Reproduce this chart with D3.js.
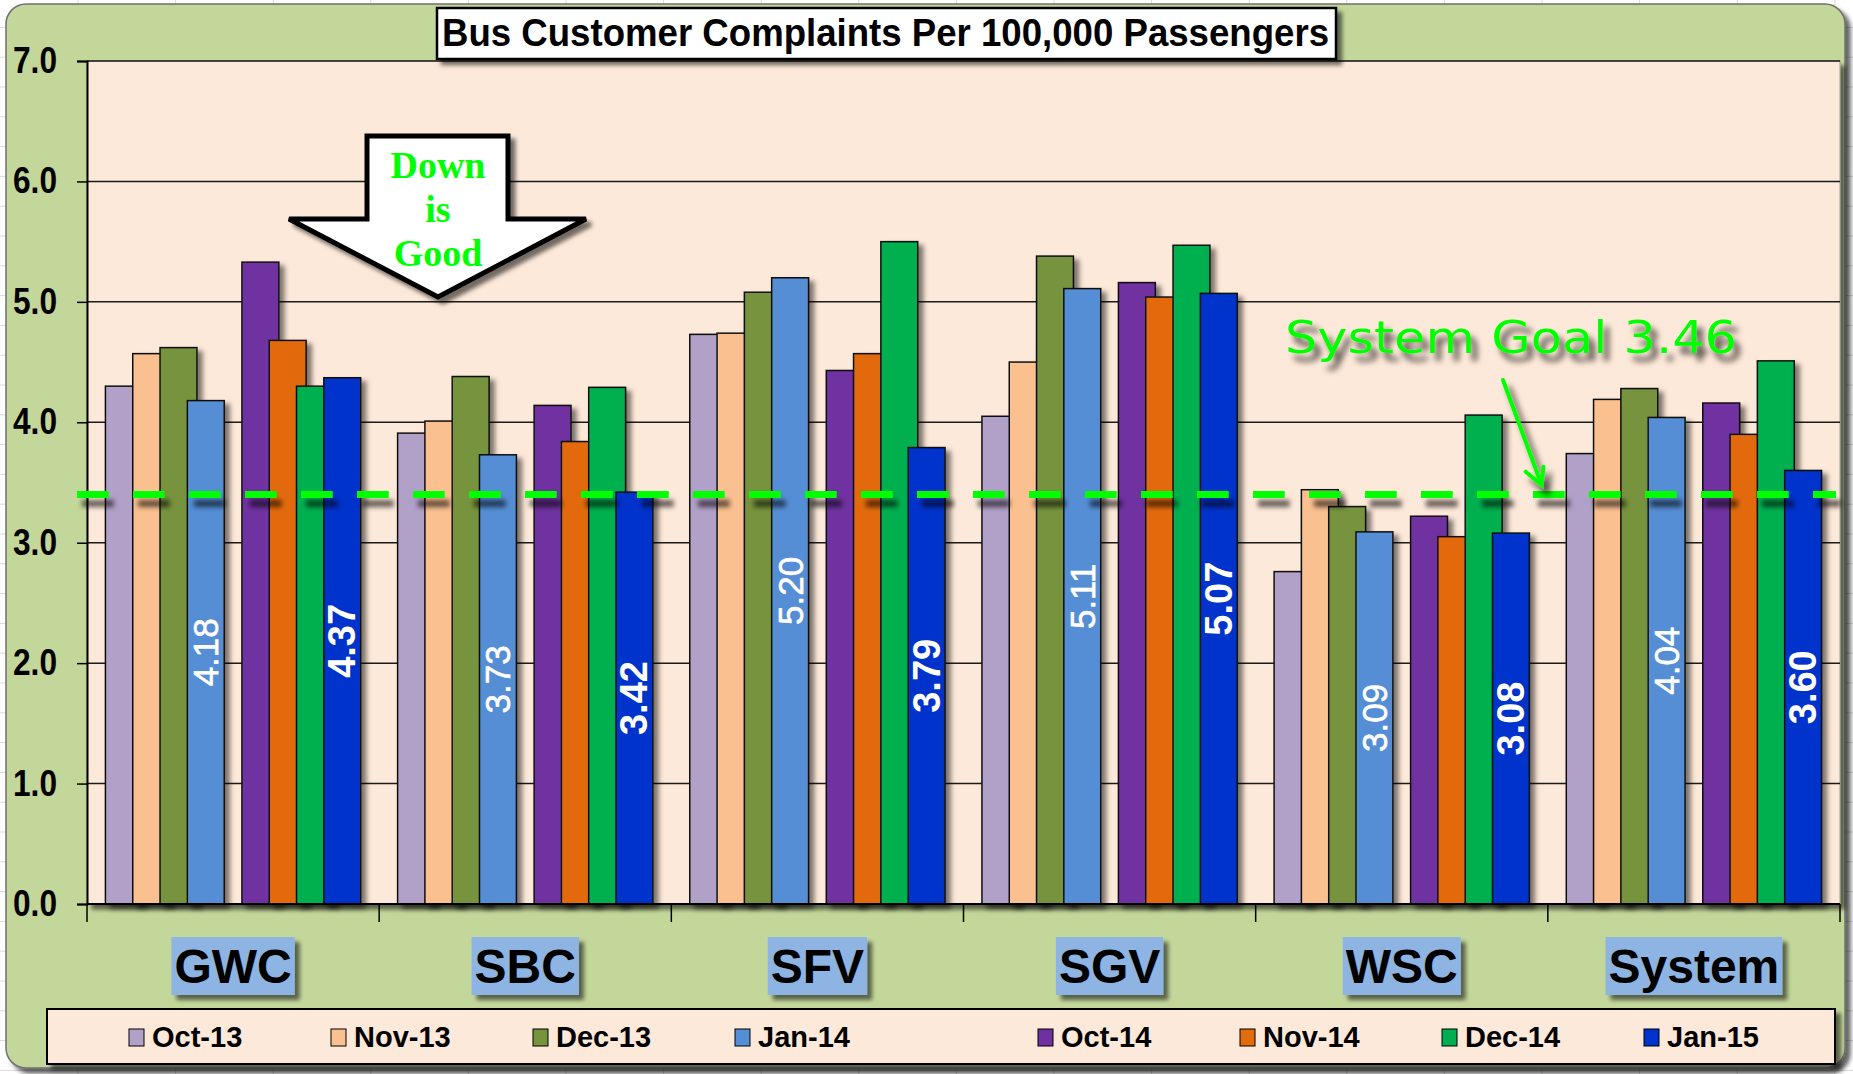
<!DOCTYPE html>
<html>
<head>
<meta charset="utf-8">
<title>Bus Customer Complaints Per 100,000 Passengers</title>
<script src="https://cdn.jsdelivr.net/npm/d3@7"></script>
<style>
	body { margin: 0; background: #fff; }
	svg { display: block; }
</style>
</head>
<body>
<div id="chart-area"></div>
<script>
// data
const groups = ['GWC', 'SBC', 'SFV', 'SGV', 'WSC', 'System']
const months = ['Oct-13', 'Nov-13', 'Dec-13', 'Jan-14', 'Oct-14', 'Nov-14', 'Dec-14', 'Jan-15']

const oct13 = [4.30, 3.91, 4.73, 4.05, 2.76, 3.74]
const nov13 = [4.57, 4.01, 4.74, 4.50, 3.44, 4.19]
const dec13 = [4.62, 4.38, 5.08, 5.38, 3.30, 4.28]
const jan14 = [4.18, 3.73, 5.20, 5.11, 3.09, 4.04]
const oct14 = [5.33, 4.14, 4.43, 5.16, 3.22, 4.16]
const nov14 = [4.68, 3.84, 4.57, 5.04, 3.05, 3.90]
const dec14 = [4.30, 4.29, 5.50, 5.47, 4.06, 4.51]
const jan15 = [4.37, 3.42, 3.79, 5.07, 3.08, 3.60]

const yTicks = [0, 1, 2, 3, 4, 5, 6, 7]
const goalLabel = 'System Goal 3.46'
const goalLevel = 3.40   // where the dashed line sits on the chart
const labelledMonths = ['Jan-14', 'Jan-15']

const monthColors = ['#b1a0c7', '#fac090', '#77933c', '#558ed5', '#7030a0', '#e26b0a', '#00b050', '#0033cc']

const seriesValues = [oct13, nov13, dec13, jan14, oct14, nov14, dec14, jan15]

const WIDTH = 1853
const HEIGHT = 1074
const PLOT = { LEFT: 87, RIGHT: 1840, TOP: 61, BOTTOM: 904 }

const svg = d3.select('#chart-area')
	.append('svg')
	.attr('width', WIDTH)
	.attr('height', HEIGHT)

// filters for the excel style shadows
const defs = svg.append('defs')
function shadow(id, dx, dy, sd, op, userSpace) {
	const f = defs.append('filter')
		.attr('id', id)
	if (userSpace) {
		f.attr('filterUnits', 'userSpaceOnUse')
			.attr('x', 0).attr('y', 0)
			.attr('width', WIDTH).attr('height', HEIGHT)
	} else {
		f.attr('x', '-20%').attr('y', '-20%')
			.attr('width', '150%').attr('height', '150%')
	}
	f.append('feDropShadow')
		.attr('dx', dx).attr('dy', dy)
		.attr('stdDeviation', sd)
		.attr('flood-color', '#000')
		.attr('flood-opacity', op)
}
shadow('barShadow', 5, 4, 2.5, 0.5)
shadow('boxShadow', 5, 5, 2, 0.55)
shadow('dashShadow', 5, 9, 2.5, 0.6, true)
shadow('textShadow', 6, 8, 3, 0.7, true)
shadow('outerShadow', 5, 5, 2, 0.6)

// sheet gridlines behind the chart object
const sheet = svg.append('g')
sheet.selectAll('.vcell')
	.data(d3.range(0, 20))
	.enter().append('line')
	.attr('x1', d => 78 + d * 97.6).attr('x2', d => 78 + d * 97.6)
	.attr('y1', 0).attr('y2', HEIGHT)
	.attr('stroke', '#d9d9d9')
sheet.selectAll('.hcell')
	.data(d3.range(0, 37))
	.enter().append('line')
	.attr('x1', 0).attr('x2', WIDTH)
	.attr('y1', d => 27.4 + d * 29.8).attr('y2', d => 27.4 + d * 29.8)
	.attr('stroke', '#d9d9d9')

// chart area
svg.append('rect')
	.attr('x', 6).attr('y', 4)
	.attr('width', 1839).attr('height', 1064)
	.attr('rx', 20)
	.attr('fill', '#c4d79b')
	.attr('stroke', '#6f6f6f')
	.attr('stroke-width', 1.5)
	.attr('filter', 'url(#outerShadow)')

// plot area
svg.append('rect')
	.attr('x', PLOT.LEFT).attr('y', PLOT.TOP)
	.attr('width', PLOT.RIGHT - PLOT.LEFT)
	.attr('height', PLOT.BOTTOM - PLOT.TOP)
	.attr('fill', '#fde9d9')
	.attr('stroke', '#9a9a9a')
	.attr('stroke-width', 1)
	.attr('filter', 'url(#boxShadow)')

const y = d3.scaleLinear()
	.domain([0, 7])
	.range([PLOT.BOTTOM, PLOT.TOP])

const x0 = d3.scaleBand()
	.domain(groups)
	.range([PLOT.LEFT, PLOT.RIGHT])

// 9 series slots (one blank between the two years), gap width 100%, overlap 26%
const SLOTS = 9
const OVERLAP = 0.26
const GAP = 1.0
const barW = x0.bandwidth() / (SLOTS - (SLOTS - 1) * OVERLAP + GAP)
const barStep = barW * (1 - OVERLAP)
const slotOf = i => (i < 4 ? i : i + 1)
const barX = (g, i) => x0(g) + barW * GAP / 2 + slotOf(i) * barStep

// gridlines
svg.append('g')
	.selectAll('line')
	.data(yTicks.filter(d => d > 0))
	.enter().append('line')
	.attr('x1', PLOT.LEFT).attr('x2', PLOT.RIGHT)
	.attr('y1', d => y(d)).attr('y2', d => y(d))
	.attr('stroke', '#1a1a1a')
	.attr('stroke-width', 1.5)

// y axis
const yAxisGroup = svg.append('g')
	.attr('transform', `translate(${PLOT.LEFT},0)`)
	.call(d3.axisLeft(y)
		.tickValues(yTicks)
		.tickSize(10)
		.tickPadding(20)
		.tickFormat(d3.format('.1f')))
yAxisGroup.select('.domain').attr('stroke', '#000').attr('stroke-width', 2)
yAxisGroup.selectAll('.tick line').attr('stroke', '#000').attr('stroke-width', 1.5)
yAxisGroup.selectAll('.tick text')
	.attr('fill', '#000')
	.attr('textLength', 44)
	.attr('lengthAdjust', 'spacingAndGlyphs')
	.style('font-family', "'Liberation Sans Narrow', 'Arial Narrow', 'Liberation Sans', sans-serif")
	.style('font-weight', 'bold')
	.style('font-size', '36px')

// bars, series by series so later ones overlap earlier ones
months.forEach((m, i) => {
	svg.append('g')
		.selectAll('rect')
		.data(seriesValues[i])
		.enter().append('rect')
		.attr('x', (d, j) => barX(groups[j], i))
		.attr('y', d => y(d))
		.attr('width', barW)
		.attr('height', d => y(0) - y(d))
		.attr('fill', monthColors[i])
		.attr('stroke', '#111')
		.attr('stroke-width', 1.5)
		.attr('filter', 'url(#barShadow)')
})

// value labels inside the January bars
labelledMonths.forEach(m => {
	const i = months.indexOf(m)
	svg.append('g')
		.selectAll('text')
		.data(seriesValues[i])
		.enter().append('text')
		.attr('transform', (d, j) => `translate(${barX(groups[j], i) + barW / 2},${(y(d) + y(0)) / 2}) rotate(-90)`)
		.attr('text-anchor', 'middle')
		.attr('dominant-baseline', 'central')
		.attr('fill', '#fff')
		.style('font-family', "'Liberation Sans', Arial, sans-serif")
		.style('font-weight', i === 7 ? 'bold' : 'normal')
		.style('font-size', i === 7 ? '38px' : '35px')
		.style('stroke', i === 7 ? 'none' : '#fff')
		.style('stroke-width', 0.6)
		.text(d => d.toFixed(2))
})

// x axis line + group ticks
svg.append('line')
	.attr('x1', PLOT.LEFT).attr('x2', PLOT.RIGHT)
	.attr('y1', y(0)).attr('y2', y(0))
	.attr('stroke', '#000').attr('stroke-width', 2)
svg.append('g')
	.selectAll('line')
	.data(groups.map(g => x0(g)).concat([x0.range()[1]]))
	.enter().append('line')
	.attr('x1', d => d).attr('x2', d => d)
	.attr('y1', y(0)).attr('y2', y(0) + 18)
	.attr('stroke', '#000').attr('stroke-width', 1.5)

// category labels on blue boxes
const cat = svg.append('g')
groups.forEach(g => {
	const t = cat.append('text')
		.attr('x', x0(g) + x0.bandwidth() / 2)
		.attr('y', 983)
		.attr('text-anchor', 'middle')
		.style('font-family', "'Liberation Sans', Arial, sans-serif")
		.style('font-weight', 'bold')
		.style('font-size', '48px')
		.attr('fill', '#000')
		.text(g)
	const bb = t.node().getBBox()
	cat.insert('rect', 'text')
		.attr('x', bb.x - 3).attr('y', 937)
		.attr('width', bb.width + 6).attr('height', 58)
		.attr('fill', '#8db4e2')
		.attr('filter', 'url(#boxShadow)')
})

// goal line
svg.append('line')
	.attr('x1', 77).attr('x2', 1836)
	.attr('y1', y(goalLevel)).attr('y2', y(goalLevel))
	.attr('stroke', '#00ff00')
	.attr('stroke-width', 7)
	.attr('stroke-dasharray', '31.7 24.3')
	.attr('filter', 'url(#dashShadow)')

svg.append('text')
	.attr('x', 1285).attr('y', 353)
	.attr('textLength', 452)
	.attr('lengthAdjust', 'spacingAndGlyphs')
	.attr('fill', '#00ff00')
	.attr('filter', 'url(#textShadow)')
	.style('font-family', "'DejaVu Sans', sans-serif")
	.style('font-size', '45px')
	.text(goalLabel)

svg.append('path')
	.attr('d', 'M1503,380 L1541.6,485 M1525.7,471.7 L1541.6,485 L1543.4,466.7')
	.attr('fill', 'none')
	.attr('stroke', '#00ff00')
	.attr('stroke-width', 4)
	.attr('stroke-linecap', 'round')
	.attr('filter', 'url(#textShadow)')

// title
svg.append('rect')
	.attr('x', 437).attr('y', 8)
	.attr('width', 899).attr('height', 51)
	.attr('fill', '#fff')
	.attr('stroke', '#000')
	.attr('stroke-width', 2.5)
	.attr('filter', 'url(#boxShadow)')
svg.append('text')
	.attr('x', 442).attr('y', 46)
	.attr('textLength', 887)
	.attr('lengthAdjust', 'spacingAndGlyphs')
	.style('font-family', "'Liberation Sans Narrow', 'Arial Narrow', 'Liberation Sans', sans-serif")
	.style('font-weight', 'bold')
	.style('font-size', '39px')
	.attr('fill', '#000')
	.text('Bus Customer Complaints Per 100,000 Passengers')

// "Down is Good" block arrow
svg.append('path')
	.attr('d', 'M367,136 L508,136 L508,219 L586,219 L438,297 L289,219 L367,219 Z')
	.attr('fill', '#fff')
	.attr('stroke', '#000')
	.attr('stroke-width', 5)
	.attr('stroke-linejoin', 'miter')
	.attr('filter', 'url(#boxShadow)')
svg.append('g')
	.selectAll('text')
	.data(['Down', 'is', 'Good'])
	.enter().append('text')
	.attr('x', 438)
	.attr('y', (d, i) => 178 + i * 44)
	.attr('text-anchor', 'middle')
	.attr('fill', '#00ff00')
	.style('font-family', "'Liberation Serif', 'Times New Roman', serif")
	.style('font-weight', 'bold')
	.style('font-size', '38px')
	.text(d => d)

// legend
svg.append('rect')
	.attr('x', 47).attr('y', 1009)
	.attr('width', 1788).attr('height', 55)
	.attr('fill', '#fde9d9')
	.attr('stroke', '#000')
	.attr('stroke-width', 2)
	.attr('filter', 'url(#boxShadow)')

const legendX = d3.scaleLinear().domain([0, 1]).range([129, 331])
const legendSlot = i => (i < 4 ? i : i + 0.5)
const legendItems = svg.append('g')
	.selectAll('g')
	.data(months)
	.enter().append('g')
	.attr('transform', (d, i) => `translate(${legendX(legendSlot(i))},0)`)
legendItems.append('rect')
	.attr('x', 0).attr('y', 1029)
	.attr('width', 15).attr('height', 17)
	.attr('fill', (d, i) => monthColors[i])
	.attr('stroke', '#000')
	.attr('stroke-width', 1)
legendItems.append('text')
	.attr('x', 23).attr('y', 1047)
	.style('font-family', "'Liberation Sans', Arial, sans-serif")
	.style('font-weight', 'bold')
	.style('font-size', '29px')
	.attr('fill', '#000')
	.text(d => d)
</script>
</body>
</html>
